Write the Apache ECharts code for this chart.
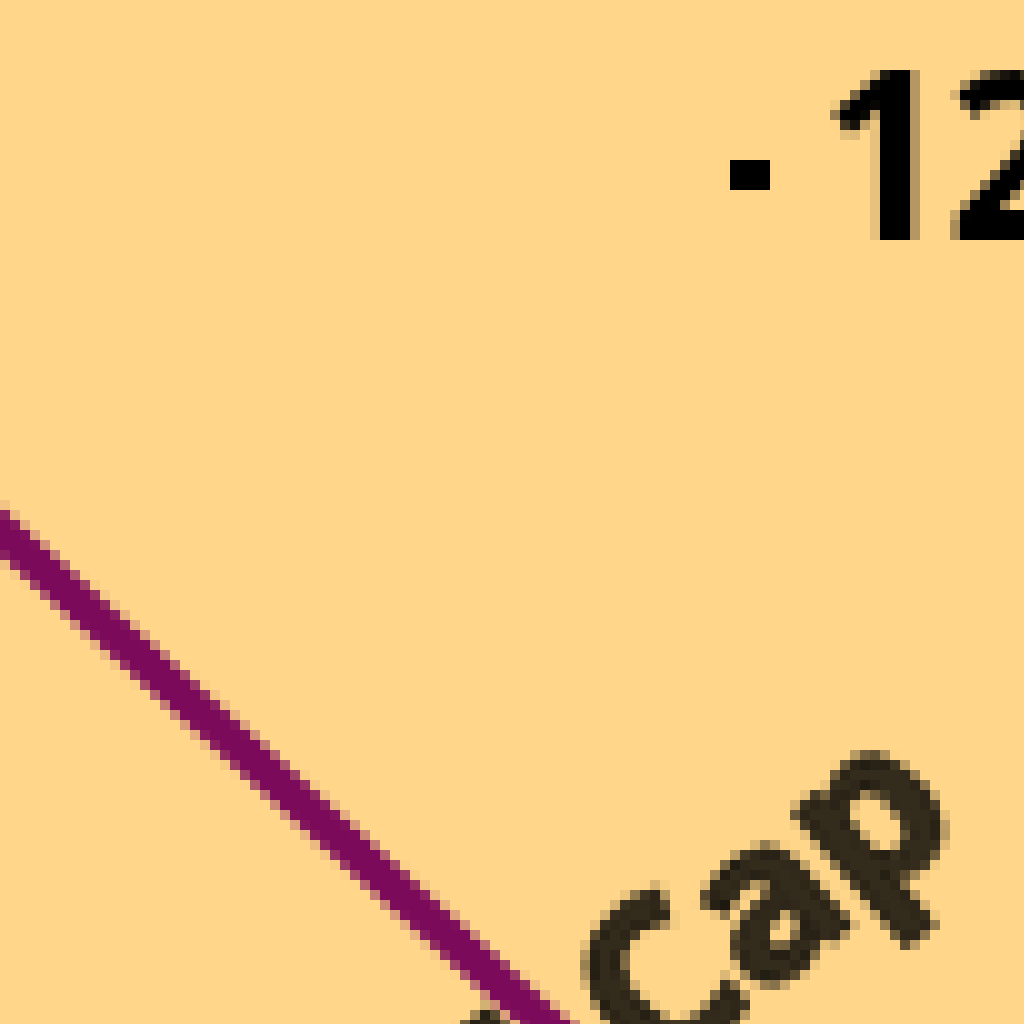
<!DOCTYPE html>
<html lang="en">
<head>
<meta charset="UTF-8">
<title>Return vs risk by market cap</title>
<script src="https://cdn.jsdelivr.net/npm/echarts@6/dist/echarts.min.js"></script>
<style>
  html, body { margin: 0; padding: 0; background: #FFD68A; }
  /* the picture is a 10x close-up of one corner of the chart */
  #view { width: 1024px; height: 1024px; overflow: hidden; position: relative; }
  #chart { position: absolute; left: -2000px; top: -600px; width: 400px; height: 460px;
           transform: scale(10); transform-origin: 0 0; }
  #chart canvas { image-rendering: pixelated; }
</style>
</head>
<body>
<div id="view"><div id="chart"></div></div>
<script>
// points per market-cap group
var capNames = ['Large Cap', 'Mid Cap', 'Small Cap'];
var capRisk = [1.5, 3.5, 7.10];
var capReturn = [8, 4, 6.82];
// trend line
var trendRisk = [6, 10];
var trendReturn = [11.55, 7.93];

var FONT = 'Open Sans';

var chart = echarts.init(document.getElementById('chart'), null, { renderer: 'canvas', devicePixelRatio: 1 });

var capData = [];
for (var i = 0; i < capNames.length; i++) {
  capData.push({ name: capNames[i], value: [capRisk[i], capReturn[i]] });
}
var trendData = [];
for (var j = 0; j < trendRisk.length; j++) {
  trendData.push([trendRisk[j], trendReturn[j]]);
}

var option = {
  backgroundColor: '#FFD68A',
  animation: false,
  textStyle: { fontFamily: FONT },
  grid: { left: 23, right: 127, top: 77.3, bottom: 82.7 },
  xAxis: {
    type: 'value',
    min: 0, max: 10, interval: 2,
    axisLine: { show: false, onZero: false },
    splitLine: { show: false },
    axisLabel: { color: '#000', fontSize: 22, fontWeight: 'bold', fontFamily: FONT }
  },
  yAxis: {
    type: 'value',
    position: 'right',
    min: 0, max: 12, interval: 4,
    axisLine: { show: true, onZero: false, lineStyle: { color: 'rgba(0,0,0,0)' } },
    axisTick: { show: true, inside: false, length: 4, lineStyle: { color: '#000', width: 3 } },
    splitLine: { show: false },
    axisLabel: { color: '#000', fontSize: 22.5, fontWeight: 'bold', fontFamily: FONT,
                 margin: 9, padding: [0, 0, 1, 0] }
  },
  series: [
    {
      name: 'trend',
      type: 'line',
      data: trendData,
      symbol: 'none',
      lineStyle: { color: '#7B0A5A', width: 3.6 }
    },
    {
      name: 'groups',
      type: 'scatter',
      data: capData,
      symbolSize: 10,
      itemStyle: { color: '#7B0A5A' },
      label: {
        show: true,
        position: 'right',
        distance: 5,
        rotate: 40,
        formatter: '{b}',
        color: '#000',
        fontSize: 22,
        fontWeight: 'bold',
        fontFamily: FONT,
        textBorderColor: '#000',
        textBorderWidth: 0.8
      }
    }
  ]
};
chart.setOption(option);
</script>
</body>
</html>
